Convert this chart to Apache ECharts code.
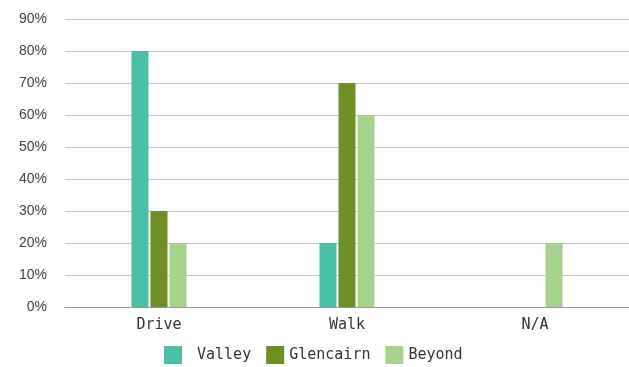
<!DOCTYPE html>
<html>
<head>
<meta charset="utf-8">
<script src="https://cdn.jsdelivr.net/npm/echarts@6/dist/echarts.min.js"></script>
<style>
  html, body { margin: 0; padding: 0; background: #fff; }
  #main { width: 629px; height: 367px; }
</style>
</head>
<body>
<div id="main"></div>
<script>
// Datos del gráfico
var categories = ['Drive', 'Walk', 'N/A'];
var valley = [80, 20, 0];
var glencairn = [30, 70, 0];
var beyond = [20, 60, 20];
var yTicks = [0, 10, 20, 30, 40, 50, 60, 70, 80, 90];

var chartDom = document.getElementById('main');
var myChart = echarts.init(chartDom);
var option;

var mono = '"DejaVu Sans Mono", "Liberation Mono", monospace';

function barSeries(name, data, color) {
  return {
    name: name,
    type: 'bar',
    data: data.map(function (v) { return v === 0 ? null : v; }),
    barWidth: 17,
    barGap: '12%',
    itemStyle: { color: color }
  };
}

option = {
  animation: false,
  grid: {
    left: 65,
    right: -5,
    top: 19,
    bottom: 60
  },
  legend: {
    bottom: -2,
    left: 159,
    itemWidth: 18,
    itemHeight: 18,
    itemGap: 15,
    icon: 'rect',
    data: [
      { name: 'Valley', textStyle: { padding: [0, 0, 0, 10] } },
      { name: 'Glencairn', textStyle: { padding: [0, 5, 0, 0] } },
      { name: 'Beyond' }
    ],
    textStyle: {
      fontFamily: mono,
      fontSize: 15,
      color: '#333'
    }
  },
  xAxis: {
    type: 'category',
    data: categories,
    axisTick: { show: false },
    axisLine: { lineStyle: { color: '#999', width: 1 } },
    axisLabel: {
      fontFamily: mono,
      fontSize: 15,
      color: '#333',
      margin: 11
    }
  },
  yAxis: {
    type: 'value',
    min: yTicks[0],
    max: yTicks[yTicks.length - 1],
    interval: 10,
    axisLine: { show: false },
    axisTick: { show: false },
    splitLine: { lineStyle: { color: '#c8c8c8', width: 1 } },
    axisLabel: {
      formatter: '{value}%',
      fontFamily: '"Liberation Sans", Arial, sans-serif',
      fontSize: 14,
      color: '#444',
      margin: 18
    }
  },
  series: [
    barSeries('Valley', valley, '#48c1a6'),
    barSeries('Glencairn', glencairn, '#6f8e24'),
    barSeries('Beyond', beyond, '#a6d38c')
  ]
};

option && myChart.setOption(option);
</script>
</body>
</html>
